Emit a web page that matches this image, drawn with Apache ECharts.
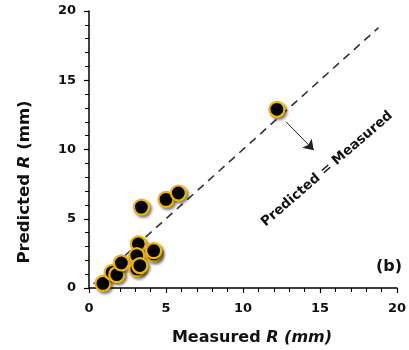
<!DOCTYPE html>
<html>
<head>
<meta charset="utf-8">
<script src="https://cdn.jsdelivr.net/npm/echarts@6/dist/echarts.min.js"></script>
<style>
html, body { margin: 0; padding: 0; background: #fff; }
#chart { width: 409px; height: 350px; }
</style>
</head>
<body>
<div id="chart"></div>
<script>
// measured vs predicted R (mm)
var measured = [0.9, 1.5, 1.8, 2.1, 3.2, 3.1, 3.1, 3.3, 4.2, 4.2, 3.4, 5.0, 5.8, 12.2];
var predicted = [0.33, 1.13, 0.96, 1.81, 3.19, 2.34, 1.38, 1.62, 2.46, 2.7, 5.84, 6.4, 6.86, 12.9];
var identityLine = [[0.3, 0.3], [18.8, 18.8]];
var arrowFrom = [12.8, 12.0];
var arrowTo = [14.6, 9.95];
var axisTicks = [0, 5, 10, 15, 20];

var font = 'DejaVu Sans';
var points = measured.map(function (m, i) { return [m, predicted[i]] });

function axis(margin) {
	return {
		type: 'value',
		min: axisTicks[0],
		max: axisTicks[axisTicks.length - 1],
		interval: 5,
		splitLine: { show: false },
		axisLine: { lineStyle: { color: '#000', width: 1.5 } },
		axisTick: { show: true, length: 5, lineStyle: { color: '#000', width: 1.2 } },
		minorTick: { show: true, splitNumber: 5, length: 4, lineStyle: { color: '#000' } },
		axisLabel: { color: '#111', fontSize: 13, fontWeight: 'bold', margin: margin, fontFamily: font }
	}
}

var myChart = echarts.init(document.getElementById('chart'))
myChart.setOption({
	animation: false,
	textStyle: { fontFamily: font },
	grid: { left: 89, right: 6, top: 11, bottom: 62 },
	xAxis: axis(14),
	yAxis: axis(13),
	graphic: [
		{
			type: 'text',
			x: 252, y: 338,
			style: {
				text: '{n|Measured }{i|R (mm)}',
				align: 'center', verticalAlign: 'middle',
				rich: {
					n: { fontSize: 16, fontWeight: 'bold', fontFamily: font, fill: '#111' },
					i: { fontSize: 16, fontWeight: 'bold', fontStyle: 'italic', fontFamily: font, fill: '#111' }
				}
			}
		},
		{
			type: 'text',
			x: 25, y: 182,
			rotation: Math.PI / 2,
			style: {
				text: '{n|Predicted }{i|R}{n| (mm)}',
				align: 'center', verticalAlign: 'middle',
				rich: {
					n: { fontSize: 16.5, fontWeight: 'bold', fontFamily: font, fill: '#111' },
					i: { fontSize: 16.5, fontWeight: 'bold', fontStyle: 'italic', fontFamily: font, fill: '#111' }
				}
			}
		},
		{
			type: 'text',
			x: 327, y: 169,
			rotation: 40.8 * Math.PI / 180,
			style: {
				text: 'Predicted = Measured',
				align: 'center', verticalAlign: 'middle',
				fontSize: 13.5, fontWeight: 'bold', fontFamily: font, fill: '#111'
			}
		},
		{
			type: 'text',
			x: 402, y: 267,
			style: {
				text: '(b)',
				align: 'right', verticalAlign: 'middle',
				fontSize: 16, fontWeight: 'bold', fontFamily: font, fill: '#111'
			}
		}
	],
	series: [
		{
			type: 'line',
			data: identityLine,
			symbol: 'none',
			lineStyle: { color: '#333', width: 1.6, type: [8, 6] },
			z: 1,
			markLine: {
				silent: true,
				symbol: ['none', 'arrow'],
				symbolSize: 10,
				label: { show: false },
				lineStyle: { color: '#222', width: 1, type: 'solid' },
				data: [[{ coord: arrowFrom }, { coord: arrowTo }]]
			}
		},
		{
			type: 'scatter',
			data: points,
			symbolSize: 15,
			z: 3,
			itemStyle: {
				color: '#000',
				borderColor: '#f2b600',
				borderWidth: 2.2,
				opacity: 1,
				shadowBlur: 3,
				shadowColor: 'rgba(0,0,0,0.45)',
				shadowOffsetX: 2,
				shadowOffsetY: 2
			}
		}
	]
})
</script>
</body>
</html>
